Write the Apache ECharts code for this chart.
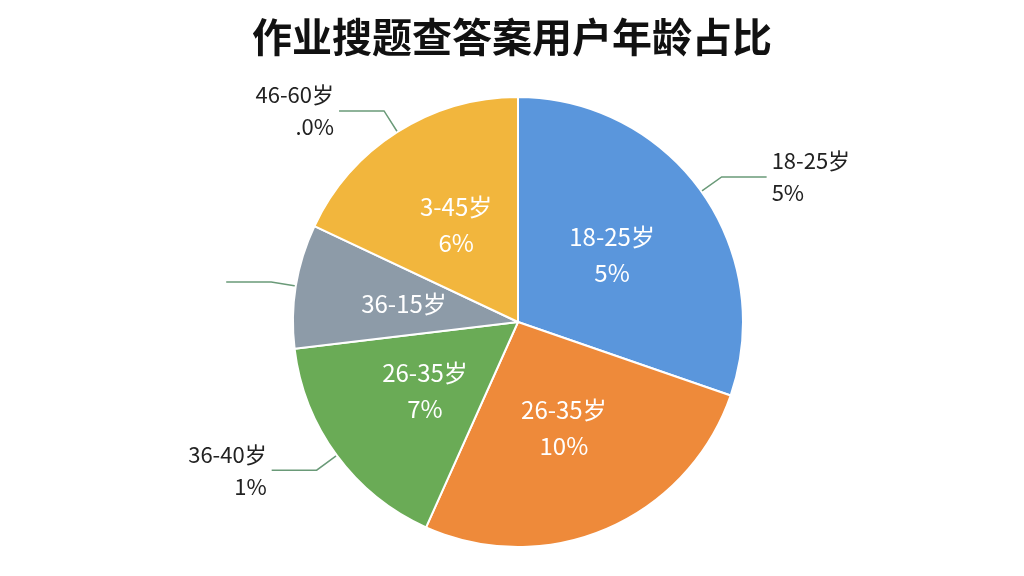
<!DOCTYPE html>
<html><head><meta charset="utf-8">
<script src="https://cdn.jsdelivr.net/npm/echarts@6/dist/echarts.min.js"></script>
<style>html,body{margin:0;background:#fff}#c{width:1024px;height:576px}</style></head>
<body><div id="c"></div>
<script>
const categories = ['18-25岁','26-35岁','26-35岁 (绿)','36-15岁','3-45岁'];
const values = [30.3, 26.4, 16.4, 8.9, 18.0];
const colors = ['#5a96dc','#ee8a3a','#6aab56','#8d9ba8','#f2b63d'];
const innerLabels = ['18-25岁\n5%','26-35岁\n10%','26-35岁\n7%','36-15岁','3-45岁\n6%'];
const outerLabels = ['18-25岁\n5%','','36-40岁\n1%',' ','46-60岁\n.0%'];

const chart = echarts.init(document.getElementById('c'));
const font = '"Noto Sans CJK SC", "Noto Sans", sans-serif';
chart.setOption({
  title:{text:'作业搜题查答案用户年龄占比',left:'center',top:12,
    textStyle:{fontSize:40,fontWeight:'bold',color:'#111',fontFamily:font}},
  series:[
    {type:'pie',radius:225,center:[518,322],clockwise:true,startAngle:90,
     itemStyle:{borderColor:'#fff',borderWidth:2},
     label:{position:'inside',color:'#fff',fontSize:24,lineHeight:36,fontFamily:font,
       formatter:p=>innerLabels[p.dataIndex]},
     data:categories.map((c,i)=>({name:c,value:values[i],itemStyle:{color:colors[i]}}))},
    {type:'pie',radius:225,center:[518,322],startAngle:90,silent:true,z:1,
     itemStyle:{color:'transparent'},
     label:{position:'outside',color:'#222',fontSize:22,lineHeight:32,fontFamily:font,
       formatter:p=>outerLabels[p.dataIndex]},
     labelLine:{length:25,length2:45,lineStyle:{color:'#6a9a78',width:1.5}},
     data:categories.map((c,i)=>({name:c,value:values[i],
       labelLine:{show:outerLabels[i]!==''},label:{show:outerLabels[i]!==''}}))}
  ]
});
</script></body></html>
